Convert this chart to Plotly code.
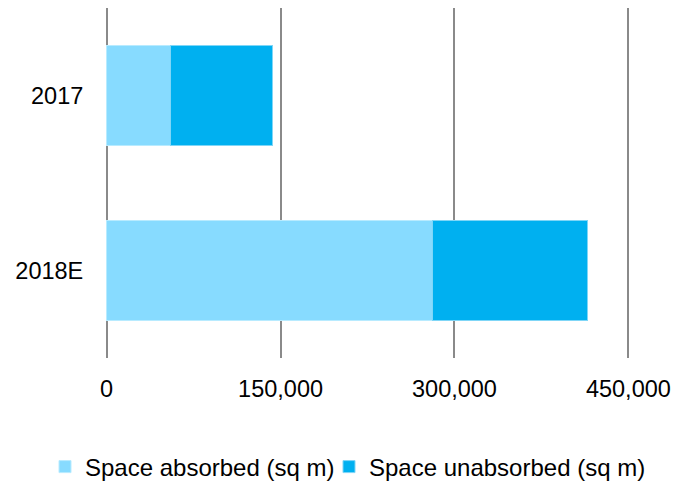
import plotly.graph_objects as go

categories = ["2017", "2018E"]
absorbed = [55500, 280700]
unabsorbed = [87600, 134200]
x_ticks = [0, 150000, 300000, 450000]
x_tick_labels = ["0", "150,000", "300,000", "450,000"]

font = "Liberation Sans, Arial, sans-serif"
W, H = 688, 483

fig = go.Figure()
fig.add_trace(go.Bar(
    y=categories, x=absorbed, orientation="h", name="Space absorbed (sq m)",
    marker=dict(color="#87DBFF", line=dict(color="#B8EBFF", width=1)),
    legend="legend",
))
fig.add_trace(go.Bar(
    y=categories, x=unabsorbed, orientation="h", name="Space unabsorbed (sq m)",
    marker=dict(color="#00B0F0", line=dict(color="#7FD6F7", width=1)),
    legend="legend2",
))

legend_common = dict(orientation="h", xref="container", yref="container",
                     xanchor="left", y=(H - 467) / H, yanchor="middle",
                     font=dict(size=24), itemwidth=30, bgcolor="rgba(0,0,0,0)")

fig.update_layout(
    barmode="stack",
    bargap=0.43,
    width=W, height=H,
    margin=dict(l=105, r=58, t=8, b=125, autoexpand=False),
    plot_bgcolor="white", paper_bgcolor="white",
    font=dict(family=font, size=23.5, color="#000000"),
    showlegend=True,
    legend=dict(x=45 / W, **legend_common),
    legend2=dict(x=329 / W, **legend_common),
    xaxis=dict(
        range=[-1400, 451400], tickvals=x_ticks, ticktext=x_tick_labels,
        showgrid=True, gridcolor="#8a8a8a", gridwidth=2,
        zeroline=False, showline=False,
        ticks="outside", ticklen=0, ticklabelstandoff=10,
        tickfont=dict(size=23.5),
    ),
    yaxis=dict(
        categoryorder="array", categoryarray=categories, autorange="reversed",
        showgrid=False, zeroline=False, showline=False,
        ticks="outside", ticklen=0, ticklabelstandoff=16,
        tickfont=dict(size=23.5),
    ),
)

fig.write_html("out.html")
